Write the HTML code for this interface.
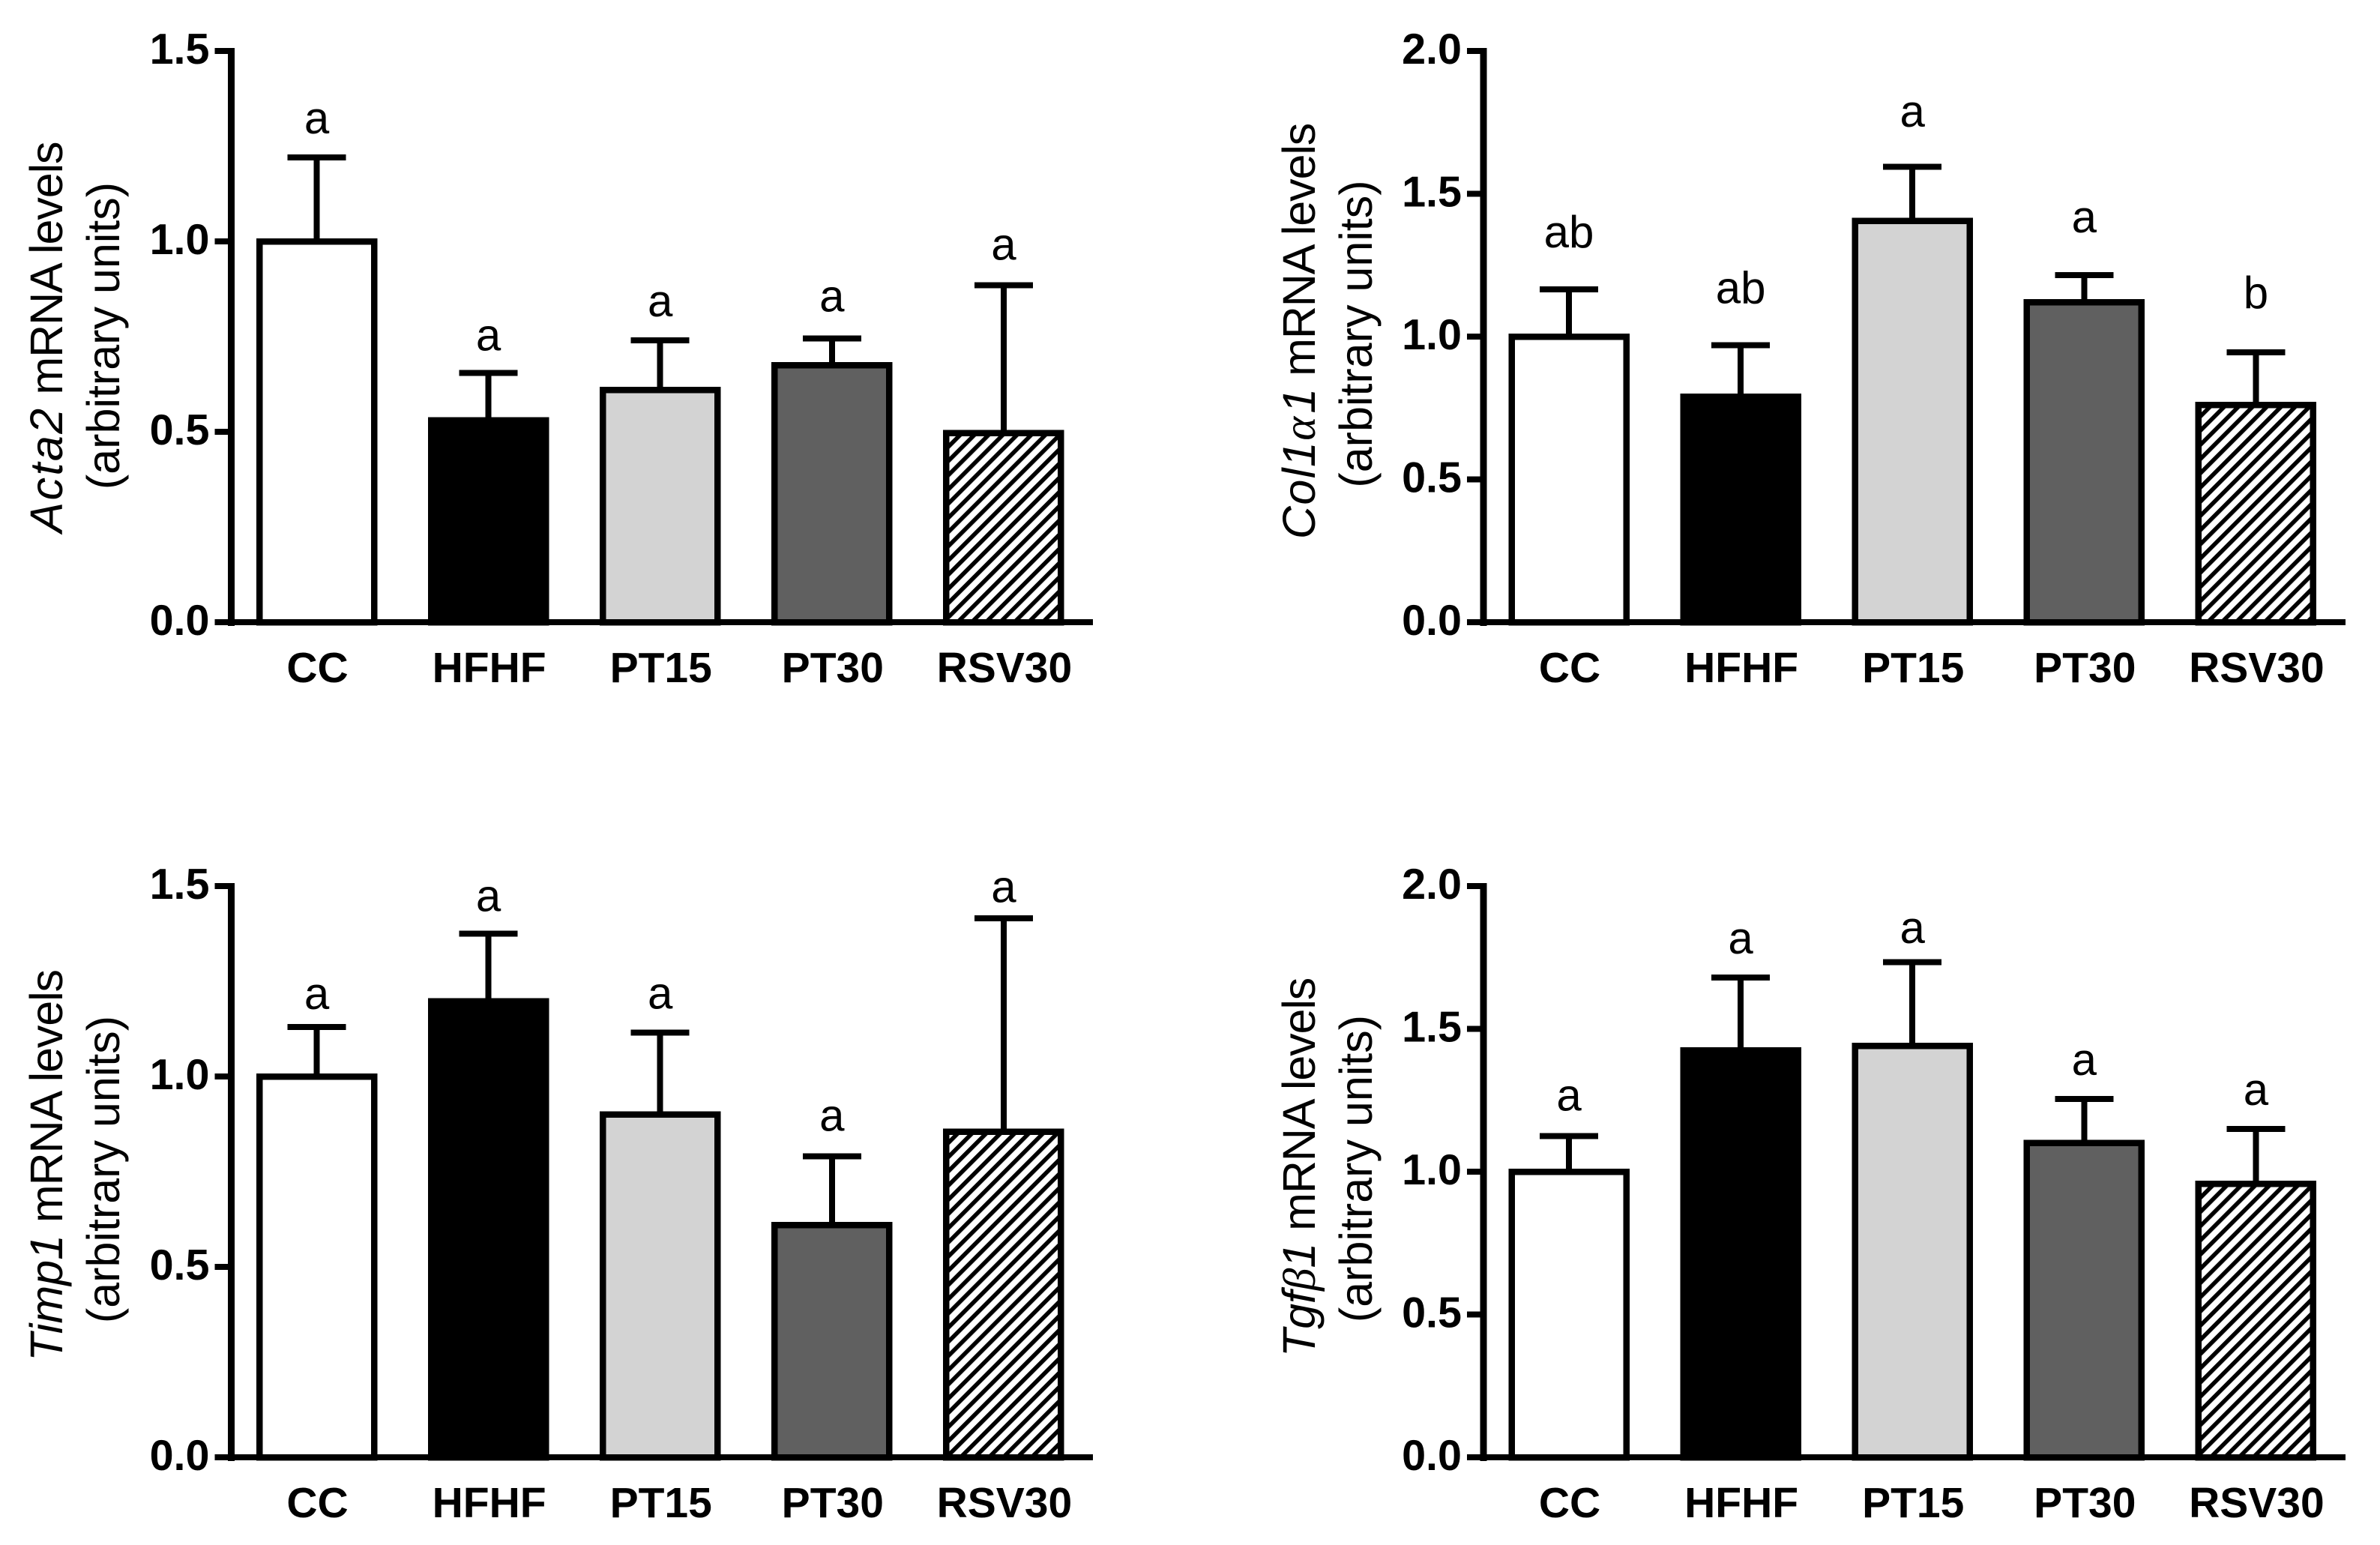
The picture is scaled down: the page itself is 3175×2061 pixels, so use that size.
<!DOCTYPE html>
<html>
<head>
<meta charset="utf-8">
<title>mRNA levels bar charts</title>
<style>
html,body{margin:0;padding:0;background:#fff;}
svg{display:block;}
text{font-family:"Liberation Sans",Arial,sans-serif;fill:#000;}
.tick{font-size:57.5px;font-weight:bold;}
.cat{font-size:57px;font-weight:bold;text-anchor:middle;}
.sig{font-size:60px;text-anchor:middle;}
.ytitle{font-size:61px;text-anchor:middle;}
</style>
</head>
<body>
<svg id="figure" xmlns="http://www.w3.org/2000/svg" width="3175" height="2061" viewBox="0 0 3175 2061">
<defs>
<pattern id="hatch" width="13.4" height="13.4" patternUnits="userSpaceOnUse" patternTransform="rotate(45)">
<rect width="13.4" height="13.4" fill="#fff"/>
<rect x="0" y="0" width="5.6" height="13.4" fill="#000"/>
</pattern>
</defs>
<rect width="3175" height="2061" fill="#fff"/>
</svg>
<script>
const categories = ['CC', 'HFHF', 'PT15', 'PT30', 'RSV30'];

const acta2Means = [1.0, 0.53, 0.61, 0.675, 0.497];
const acta2Errors = [1.22, 0.655, 0.74, 0.745, 0.885];
const acta2Letters = ['a', 'a', 'a', 'a', 'a'];
const acta2LetterLift = [0.063, 0.059, 0.063, 0.071, 0.067];
const acta2Ticks = ['0.0', '0.5', '1.0', '1.5'];

const col1a1Means = [1.0, 0.79, 1.405, 1.12, 0.76];
const col1a1Errors = [1.165, 0.97, 1.595, 1.215, 0.945];
const col1a1Letters = ['ab', 'ab', 'a', 'a', 'b'];
const col1a1LetterLift = [0.147, 0.147, 0.14, 0.15, 0.155];
const col1a1Ticks = ['0.0', '0.5', '1.0', '1.5', '2.0'];

const timp1Means = [1.0, 1.197, 0.9, 0.61, 0.855];
const timp1Errors = [1.13, 1.375, 1.115, 0.79, 1.415];
const timp1Letters = ['a', 'a', 'a', 'a', 'a'];
const timp1LetterLift = [0.047, 0.059, 0.063, 0.067, 0.043];
const timp1Ticks = ['0.0', '0.5', '1.0', '1.5'];

const tgfb1Means = [1.0, 1.425, 1.44, 1.10, 0.957];
const tgfb1Errors = [1.125, 1.68, 1.733, 1.255, 1.15];
const tgfb1Letters = ['a', 'a', 'a', 'a', 'a'];
const tgfb1LetterLift = [0.089, 0.084, 0.068, 0.084, 0.084];
const tgfb1Ticks = ['0.0', '0.5', '1.0', '1.5', '2.0'];

const barFills = ['#ffffff', '#000000', '#d3d3d3', '#606060', 'url(#hatch)'];

const NS = 'http://www.w3.org/2000/svg';
const figure = document.getElementById('figure');

function make(tag, parent, attrs, text) {
  const el = document.createElementNS(NS, tag);
  for (const k in attrs) el.setAttribute(k, attrs[k]);
  if (text !== undefined) el.textContent = text;
  parent.appendChild(el);
  return el;
}

function drawPanel(p) {
  const g = make('g', figure, {});
  
  

  const top = p.base - 762;
  const yMax = parseFloat(p.ticks[p.ticks.length - 1]);
  const yOf = v => p.base - (v / yMax) * 762;
  const xOf = i => p.axisX + 114 + i * 229.1;
  const barW = 153;

  // y axis title
  const title = make('g', g, {});
  
  
  const l1 = make('text', title, {
    class: 'ytitle',
    transform: 'translate(' + p.titleX + ',' + p.titleY1 + ') rotate(-90)'
  });
  p.titleParts.forEach(part => {
    const t = make('tspan', l1, {}, part[0]);
    if (part[1] === 'i') t.setAttribute('font-style', 'italic');
    if (part[1] === 'g') {
      t.setAttribute('font-style', 'italic');
      t.setAttribute('style', 'font-family:"Liberation Serif",serif');
    }
    if (part[2]) t.setAttribute('letter-spacing', part[2]);
  });
  make('text', title, {
    class: 'ytitle',
    transform: 'translate(' + (p.titleX + 76) + ',' + p.titleY2 + ') rotate(-90)'
  }, '(arbitrary units)');

  // bars
  categories.forEach((c, i) => {
    const cx = xOf(i);
    const topY = yOf(p.means[i]);
    const errY = yOf(p.errors[i]);

    const stem = make('rect', g, { x: cx - 4, y: errY, width: 8, height: topY - errY, fill: '#000', 'shape-rendering': 'crispEdges' });
    
    

    const cap = make('rect', g, { x: cx - 39, y: errY - 4, width: 78, height: 8, fill: '#000', 'shape-rendering': 'crispEdges' });
    
    

    const bar = make('rect', g, {
      x: cx - barW / 2, y: topY, width: barW, height: p.base - topY,
      fill: barFills[i], stroke: '#000', 'stroke-width': 8.5, 'shape-rendering': 'crispEdges'
    });
    
    

    const sig = make('text', g, { class: 'sig', x: cx, y: yOf(p.errors[i] + p.lift[i]) }, p.letters[i]);
    
    

    const lab = make('text', g, { class: 'cat', x: cx + 1, y: p.base + 80 }, c);
    
    
  });

  // axes
  const yAxis = make('rect', g, { x: p.axisX - 4.5, y: top - 4, width: 9, height: 771, fill: '#000', 'shape-rendering': 'crispEdges' });
  
  

  const xAxis = make('rect', g, { x: p.axisX - 22, y: p.base - 4, width: p.axisEnd - p.axisX + 22, height: 8, fill: '#000', 'shape-rendering': 'crispEdges' });
  
  

  p.ticks.forEach(t => {
    const y = yOf(parseFloat(t));
    const mark = make('rect', g, { x: p.axisX - 22, y: y - 4, width: 22, height: 8, fill: '#000', 'shape-rendering': 'crispEdges' });
    
    

    const lab = make('text', g, { class: 'tick', x: p.axisX - 29, y: y + 17, 'text-anchor': 'end' }, t);
    
    
  });
}

drawPanel({
  key: 'acta2', axisX: 308.5, axisEnd: 1458, base: 830,
  means: acta2Means, errors: acta2Errors, letters: acta2Letters, lift: acta2LetterLift, ticks: acta2Ticks,
  titleX: 83, titleY1: 450, titleY2: 448,
  titleParts: [['Acta2', 'i', 2.4], [' mRNA levels', '', -1.1]]
});
drawPanel({
  key: 'col1a1', axisX: 1979, axisEnd: 3129, base: 830,
  means: col1a1Means, errors: col1a1Errors, letters: col1a1Letters, lift: col1a1LetterLift, ticks: col1a1Ticks,
  titleX: 1754, titleY1: 442, titleY2: 445.5,
  titleParts: [['Col1', 'i', 1.5], ['\u03B1', 'g', 4], ['1', 'i'], [' mRNA levels', '', -1.1]]
});
drawPanel({
  key: 'timp1', axisX: 308.5, axisEnd: 1458, base: 1944,
  means: timp1Means, errors: timp1Errors, letters: timp1Letters, lift: timp1LetterLift, ticks: timp1Ticks,
  titleX: 83, titleY1: 1555, titleY2: 1560,
  titleParts: [['Timp1', 'i'], [' mRNA levels', '', -1.1]]
});
drawPanel({
  key: 'tgfb1', axisX: 1979, axisEnd: 3129, base: 1944,
  means: tgfb1Means, errors: tgfb1Errors, letters: tgfb1Letters, lift: tgfb1LetterLift, ticks: tgfb1Ticks,
  titleX: 1754, titleY1: 1557.5, titleY2: 1559,
  titleParts: [['Tgf', 'i'], ['\u03B2', 'g'], ['1', 'i'], [' mRNA levels', '', -1.1]]
});
</script>
</body>
</html>
